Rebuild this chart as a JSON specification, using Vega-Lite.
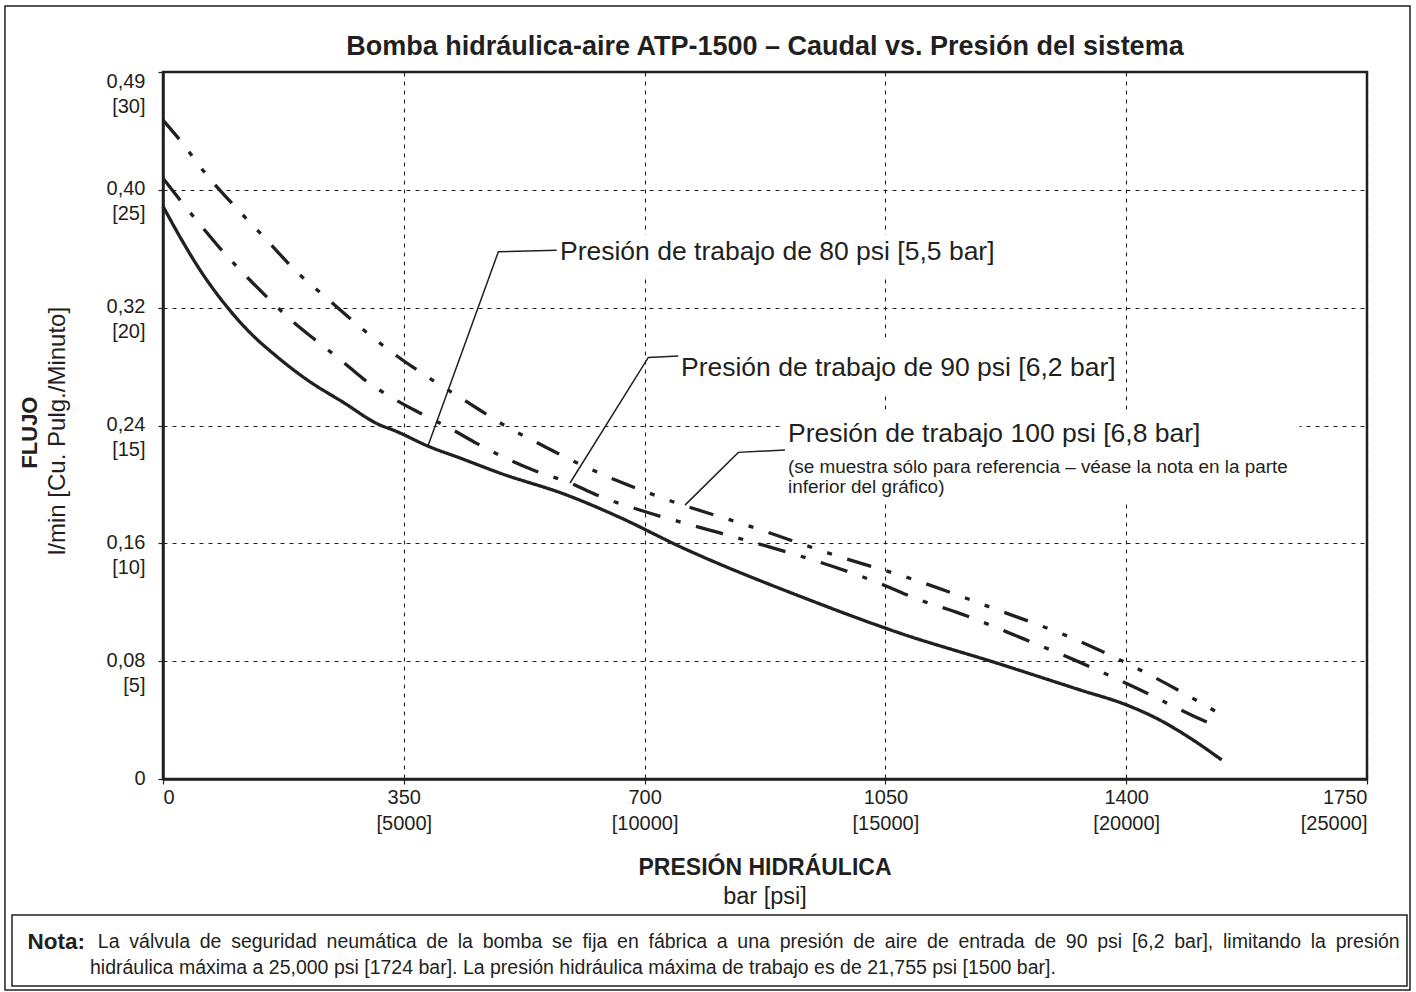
{
  "$schema": "https://vega.github.io/schema/vega-lite/v6.json",
  "width": 1204,
  "height": 707,
  "autosize": {"type": "none"},
  "padding": {"left": 163, "top": 72, "right": 49, "bottom": 213},
  "background": "white",
  "config": {
    "font": "Liberation Sans",
    "view": {"stroke": "#231f20", "strokeWidth": 2.5},
    "text": {"color": "#231f20", "font": "Liberation Sans"}
  },
  "layer": [
    {
      "data": {"values": [{}]},
      "mark": {"type": "rect", "fill": "transparent", "stroke": "#231f20", "strokeWidth": 1.5},
      "encoding": {
        "x": {"datum": -229.7, "type": "quantitative"},
        "x2": {"datum": 1812.5},
        "y": {"datum": 32.8, "type": "quantitative"},
        "y2": {"datum": -8.95}
      }
    },
    {
      "data": {"values": [{}]},
      "mark": {"type": "rect", "fill": "transparent", "stroke": "#231f20", "strokeWidth": 1.5},
      "encoding": {
        "x": {"datum": -219.5, "type": "quantitative"},
        "x2": {"datum": 1808.1},
        "y": {"datum": -5.77, "type": "quantitative"},
        "y2": {"datum": -8.78}
      }
    },
    {
      "data": {"values": [{}]},
      "mark": {"type": "rect", "fill": "white", "stroke": null},
      "encoding": {
        "x": {"datum": 574, "type": "quantitative"},
        "x2": {"datum": 1224},
        "y": {"datum": 23.1, "type": "quantitative"},
        "y2": {"datum": 21.3}
      }
    },
    {
      "data": {"values": [{}]},
      "mark": {"type": "rect", "fill": "white", "stroke": null},
      "encoding": {
        "x": {"datum": 748, "type": "quantitative"},
        "x2": {"datum": 1398},
        "y": {"datum": 18.6, "type": "quantitative"},
        "y2": {"datum": 16.3}
      }
    },
    {
      "data": {"values": [{}]},
      "mark": {"type": "rect", "fill": "white", "stroke": null},
      "encoding": {
        "x": {"datum": 901, "type": "quantitative"},
        "x2": {"datum": 1652},
        "y": {"datum": 15.57, "type": "quantitative"},
        "y2": {"datum": 11.84}
      }
    },
    {
      "data": {
        "values": [
          {"serie": "80 psi", "presion": 0, "flujo": 24.3},
          {"serie": "80 psi", "presion": 24.7, "flujo": 23.0},
          {"serie": "80 psi", "presion": 53.8, "flujo": 21.6},
          {"serie": "80 psi", "presion": 92.6, "flujo": 20.05},
          {"serie": "80 psi", "presion": 126.5, "flujo": 18.94},
          {"serie": "80 psi", "presion": 165.3, "flujo": 17.93},
          {"serie": "80 psi", "presion": 208.9, "flujo": 16.95},
          {"serie": "80 psi", "presion": 261.6, "flujo": 15.99},
          {"serie": "80 psi", "presion": 315.4, "flujo": 15.02},
          {"serie": "80 psi", "presion": 334.3, "flujo": 14.81},
          {"serie": "80 psi", "presion": 388.1, "flujo": 14.09},
          {"serie": "80 psi", "presion": 431.7, "flujo": 13.62},
          {"serie": "80 psi", "presion": 489.8, "flujo": 12.98},
          {"serie": "80 psi", "presion": 586.8, "flujo": 12.05},
          {"serie": "80 psi", "presion": 664, "flujo": 11.1},
          {"serie": "80 psi", "presion": 751.5, "flujo": 9.86},
          {"serie": "80 psi", "presion": 940.4, "flujo": 7.59},
          {"serie": "80 psi", "presion": 1071, "flujo": 6.19},
          {"serie": "80 psi", "presion": 1211.8, "flujo": 4.92},
          {"serie": "80 psi", "presion": 1332.8, "flujo": 3.78},
          {"serie": "80 psi", "presion": 1400.7, "flujo": 3.14},
          {"serie": "80 psi", "presion": 1449, "flujo": 2.5},
          {"serie": "80 psi", "presion": 1492.7, "flujo": 1.74},
          {"serie": "80 psi", "presion": 1538.8, "flujo": 0.81},
          {"serie": "90 psi", "presion": 0, "flujo": 25.49},
          {"serie": "90 psi", "presion": 24.7, "flujo": 24.57},
          {"serie": "90 psi", "presion": 58.1, "flujo": 23.38},
          {"serie": "90 psi", "presion": 85.3, "flujo": 22.44},
          {"serie": "90 psi", "presion": 121.7, "flujo": 21.31},
          {"serie": "90 psi", "presion": 150.7, "flujo": 20.46},
          {"serie": "90 psi", "presion": 189, "flujo": 19.4},
          {"serie": "90 psi", "presion": 218, "flujo": 18.71},
          {"serie": "90 psi", "presion": 261.6, "flujo": 17.7},
          {"serie": "90 psi", "presion": 290.7, "flujo": 16.99},
          {"serie": "90 psi", "presion": 339.7, "flujo": 16.06},
          {"serie": "90 psi", "presion": 373.5, "flujo": 15.53},
          {"serie": "90 psi", "presion": 421.5, "flujo": 14.81},
          {"serie": "90 psi", "presion": 456, "flujo": 14.24},
          {"serie": "90 psi", "presion": 504.4, "flujo": 13.53},
          {"serie": "90 psi", "presion": 537.8, "flujo": 13.11},
          {"serie": "90 psi", "presion": 591.6, "flujo": 12.56},
          {"serie": "90 psi", "presion": 630.4, "flujo": 12.05},
          {"serie": "90 psi", "presion": 700, "flujo": 11.35},
          {"serie": "90 psi", "presion": 767.4, "flujo": 10.78},
          {"serie": "90 psi", "presion": 809.6, "flujo": 10.44},
          {"serie": "90 psi", "presion": 1050, "flujo": 8.2},
          {"serie": "90 psi", "presion": 1093, "flujo": 7.67},
          {"serie": "90 psi", "presion": 1158, "flujo": 7.03},
          {"serie": "90 psi", "presion": 1245.6, "flujo": 6.01},
          {"serie": "90 psi", "presion": 1330.4, "flujo": 4.98},
          {"serie": "90 psi", "presion": 1415.3, "flujo": 3.85},
          {"serie": "90 psi", "presion": 1500, "flujo": 2.64},
          {"serie": "90 psi", "presion": 1526.6, "flujo": 2.29},
          {"serie": "100 psi", "presion": 0, "flujo": 27.96},
          {"serie": "100 psi", "presion": 24.7, "flujo": 27.11},
          {"serie": "100 psi", "presion": 63.5, "flujo": 25.63},
          {"serie": "100 psi", "presion": 107.1, "flujo": 24.21},
          {"serie": "100 psi", "presion": 148.3, "flujo": 22.95},
          {"serie": "100 psi", "presion": 194.3, "flujo": 21.52},
          {"serie": "100 psi", "presion": 237.9, "flujo": 20.41},
          {"serie": "100 psi", "presion": 288.8, "flujo": 19.12},
          {"serie": "100 psi", "presion": 334.3, "flujo": 18.07},
          {"serie": "100 psi", "presion": 390.5, "flujo": 16.95},
          {"serie": "100 psi", "presion": 441.4, "flujo": 16.01},
          {"serie": "100 psi", "presion": 499.5, "flujo": 14.95},
          {"serie": "100 psi", "presion": 550.4, "flujo": 14.17},
          {"serie": "100 psi", "presion": 608.6, "flujo": 13.32},
          {"serie": "100 psi", "presion": 664.2, "flujo": 12.61},
          {"serie": "100 psi", "presion": 727.2, "flujo": 11.91},
          {"serie": "100 psi", "presion": 855.7, "flujo": 10.7},
          {"serie": "100 psi", "presion": 976.3, "flujo": 9.5},
          {"serie": "100 psi", "presion": 1093.6, "flujo": 8.44},
          {"serie": "100 psi", "presion": 1206.8, "flujo": 7.24},
          {"serie": "100 psi", "presion": 1325.6, "flujo": 5.93},
          {"serie": "100 psi", "presion": 1439.4, "flujo": 4.34},
          {"serie": "100 psi", "presion": 1492.7, "flujo": 3.49},
          {"serie": "100 psi", "presion": 1538.8, "flujo": 2.72}
        ]
      },
      "mark": {"type": "line", "color": "#231f20", "strokeWidth": 3.3, "interpolate": "monotone", "strokeCap": "butt"},
      "encoding": {
        "x": {
          "field": "presion",
          "type": "quantitative",
          "scale": {"domain": [0, 1750], "nice": false, "zero": false},
          "axis": {
            "title": null,
            "values": [0, 350, 700, 1050, 1400, 1750],
            "labelExpr": "datum.value == 0 ? '0' : ['' + datum.value, '[' + round(datum.value * 100 / 7) + ']']",
            "grid": true,
            "gridDash": [4, 5],
            "gridColor": "#231f20",
            "gridWidth": 1.1,
            "gridOpacity": 1,
            "domainColor": "#231f20",
            "domainWidth": 2.5,
            "tickColor": "#231f20",
            "tickSize": 5,
            "tickWidth": 1.2,
            "labelFont": "Liberation Sans",
            "labelFontSize": 20,
            "labelColor": "#231f20",
            "labelLineHeight": 26,
            "labelPadding": 3,
            "labelFlush": true,
            "labelAngle": 0,
            "labelOverlap": false
          }
        },
        "y": {
          "field": "flujo",
          "type": "quantitative",
          "scale": {"domain": [0, 30], "nice": false, "zero": false},
          "axis": {
            "title": null,
            "values": [0, 5, 10, 15, 20, 25, 30],
            "labelExpr": "datum.value == 0 ? '0' : [datum.value == 5 ? '0,08' : datum.value == 10 ? '0,16' : datum.value == 15 ? '0,24' : datum.value == 20 ? '0,32' : datum.value == 25 ? '0,40' : '0,49', '[' + datum.value + ']']",
            "grid": true,
            "gridDash": [4, 5],
            "gridColor": "#231f20",
            "gridWidth": 1.1,
            "gridOpacity": 1,
            "domainColor": "#231f20",
            "domainWidth": 2.5,
            "tickColor": "#231f20",
            "tickSize": 5,
            "tickWidth": 1.2,
            "labelFont": "Liberation Sans",
            "labelFontSize": 20,
            "labelColor": "#231f20",
            "labelLineHeight": 25,
            "labelBaseline": "top",
            "labelOffset": {"condition": {"test": "datum.value == 30", "value": -1}, "value": -11},
            "labelPadding": 13,
            "labelFlush": false,
            "labelOverlap": false
          }
        },
        "strokeDash": {
          "field": "serie",
          "type": "nominal",
          "scale": {"domain": ["80 psi", "90 psi", "100 psi"], "range": [[1, 0], [28, 16, 5, 16], [25, 16, 5, 16, 5, 16]]},
          "legend": null
        }
      }
    },
    {
      "data": {
        "values": [
          {"guia": "80", "presion": 385.6, "flujo": 14.17},
          {"guia": "80", "presion": 487.4, "flujo": 22.37},
          {"guia": "80", "presion": 572.2, "flujo": 22.44},
          {"guia": "90", "presion": 591.6, "flujo": 12.56},
          {"guia": "90", "presion": 705.4, "flujo": 17.89},
          {"guia": "90", "presion": 749, "flujo": 17.95},
          {"guia": "100", "presion": 758.7, "flujo": 11.62},
          {"guia": "100", "presion": 836.2, "flujo": 13.86},
          {"guia": "100", "presion": 904, "flujo": 13.96}
        ]
      },
      "mark": {"type": "line", "color": "#231f20", "strokeWidth": 1.5},
      "encoding": {
        "x": {"field": "presion", "type": "quantitative"},
        "y": {"field": "flujo", "type": "quantitative"},
        "detail": {"field": "guia", "type": "nominal"}
      }
    },
    {
      "data": {"values": [{"t": "Presión de trabajo de 80 psi [5,5 bar]"}]},
      "mark": {"type": "text", "align": "left", "baseline": "middle", "fontSize": 26.5},
      "encoding": {"x": {"datum": 577, "type": "quantitative"}, "y": {"datum": 22.36, "type": "quantitative"}, "text": {"field": "t"}}
    },
    {
      "data": {"values": [{"t": "Presión de trabajo de 90 psi [6,2 bar]"}]},
      "mark": {"type": "text", "align": "left", "baseline": "middle", "fontSize": 26.5},
      "encoding": {"x": {"datum": 752.9, "type": "quantitative"}, "y": {"datum": 17.46, "type": "quantitative"}, "text": {"field": "t"}}
    },
    {
      "data": {"values": [{"t": "Presión de trabajo 100 psi [6,8 bar]"}]},
      "mark": {"type": "text", "align": "left", "baseline": "middle", "fontSize": 26.5},
      "encoding": {"x": {"datum": 908.4, "type": "quantitative"}, "y": {"datum": 14.65, "type": "quantitative"}, "text": {"field": "t"}}
    },
    {
      "data": {"values": [{"t": " (se muestra sólo para referencia – véase la nota en la parte"}]},
      "mark": {"type": "text", "align": "left", "baseline": "middle", "fontSize": 18.9},
      "encoding": {"x": {"datum": 908.4, "type": "quantitative"}, "y": {"datum": 13.24, "type": "quantitative"}, "text": {"field": "t"}}
    },
    {
      "data": {"values": [{"t": "inferior del gráfico)"}]},
      "mark": {"type": "text", "align": "left", "baseline": "middle", "fontSize": 18.9},
      "encoding": {"x": {"datum": 908.4, "type": "quantitative"}, "y": {"datum": 12.39, "type": "quantitative"}, "text": {"field": "t"}}
    },
    {
      "data": {"values": [{"t": "Bomba hidráulica-aire ATP-1500 – Caudal vs. Presión del sistema"}]},
      "mark": {"type": "text", "align": "center", "baseline": "middle", "fontSize": 27, "fontWeight": "bold"},
      "encoding": {"x": {"datum": 875, "type": "quantitative"}, "y": {"datum": 31.06, "type": "quantitative"}, "text": {"field": "t"}}
    },
    {
      "data": {"values": [{"t": "PRESIÓN HIDRÁULICA"}]},
      "mark": {"type": "text", "align": "center", "baseline": "middle", "fontSize": 23, "fontWeight": "bold"},
      "encoding": {"x": {"datum": 875, "type": "quantitative"}, "y": {"datum": -3.78, "type": "quantitative"}, "text": {"field": "t"}}
    },
    {
      "data": {"values": [{"t": "bar [psi]"}]},
      "mark": {"type": "text", "align": "center", "baseline": "middle", "fontSize": 23.5},
      "encoding": {"x": {"datum": 875, "type": "quantitative"}, "y": {"datum": -5.01, "type": "quantitative"}, "text": {"field": "t"}}
    },
    {
      "data": {"values": [{"t": "FLUJO"}]},
      "mark": {"type": "text", "align": "center", "baseline": "middle", "fontSize": 22, "fontWeight": "bold", "angle": 270},
      "encoding": {"x": {"datum": -193.3, "type": "quantitative"}, "y": {"datum": 14.7, "type": "quantitative"}, "text": {"field": "t"}}
    },
    {
      "data": {"values": [{"t": "l/min [Cu. Pulg./Minuto]"}]},
      "mark": {"type": "text", "align": "center", "baseline": "middle", "fontSize": 24, "angle": 270},
      "encoding": {"x": {"datum": -152.6, "type": "quantitative"}, "y": {"datum": 14.77, "type": "quantitative"}, "text": {"field": "t"}}
    },
    {
      "data": {"values": [{"t": "Nota:"}]},
      "mark": {"type": "text", "align": "left", "baseline": "middle", "fontSize": 22.5, "fontWeight": "bold"},
      "encoding": {"x": {"datum": -197, "type": "quantitative"}, "y": {"datum": -6.92, "type": "quantitative"}, "text": {"field": "t"}}
    },
    {
      "data": {"values": [{"t": "La\u2002válvula\u2002de\u2002seguridad\u2002neumática\u2002de\u2002la\u2002bomba\u2002se\u2002fija\u2002en\u2002fábrica\u2002a\u2002una\u2002presión\u2002de\u2002aire\u2002de\u2002entrada\u2002de\u200290\u2002psi\u2002[6,2\u2002bar],\u2002limitando\u2002la\u2002presión"}]},
      "mark": {"type": "text", "align": "right", "baseline": "middle", "fontSize": 19.5},
      "encoding": {"x": {"datum": 1797.5, "type": "quantitative"}, "y": {"datum": -6.92, "type": "quantitative"}, "text": {"field": "t"}}
    },
    {
      "data": {"values": [{"t": "hidráulica máxima a 25,000 psi [1724 bar]. La presión hidráulica máxima de trabajo es de 21,755 psi [1500 bar]."}]},
      "mark": {"type": "text", "align": "left", "baseline": "middle", "fontSize": 19.5},
      "encoding": {"x": {"datum": -106.1, "type": "quantitative"}, "y": {"datum": -8.02, "type": "quantitative"}, "text": {"field": "t"}}
    }
  ]
}
